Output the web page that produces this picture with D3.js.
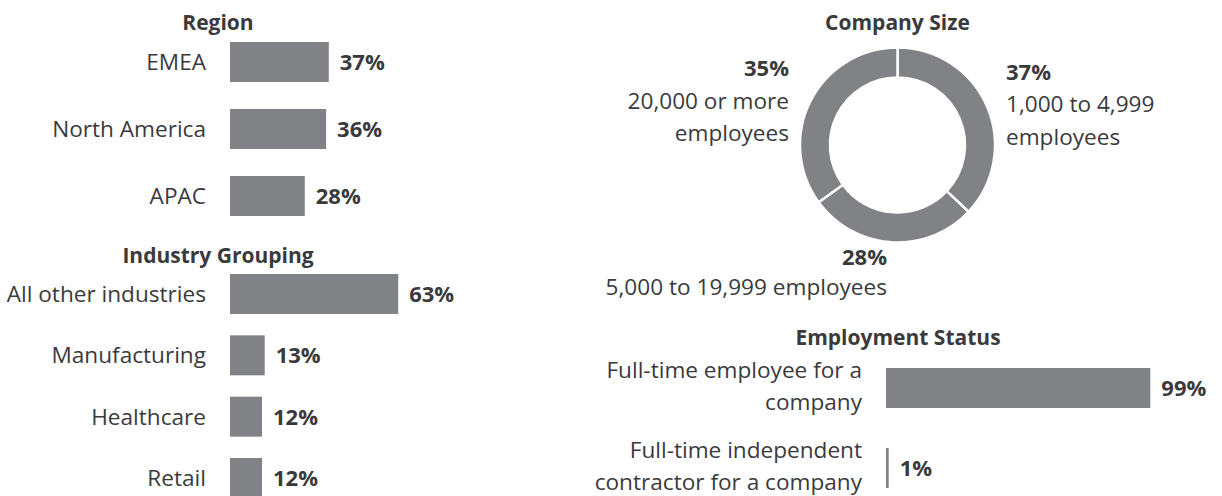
<!DOCTYPE html>
<html>
<head>
<meta charset="utf-8">
<script src="https://cdn.jsdelivr.net/npm/d3@7"></script>
<style>
  body { margin: 0; background: #fff; }
  svg { display: block; font-family: "Open Sans", sans-serif; }
  .title { font-weight: 700; font-size: 21px; fill: #3a3a3c; }
  .cat { font-size: 22.6px; fill: #3a3a3c; }
  .val { font-weight: 700; font-size: 22px; fill: #3a3a3c; }
</style>
</head>
<body>
<div id="chart"></div>
<script>
// data
var regionCats = ["EMEA", "North America", "APAC"],
    regionVals = [37, 36, 28];

var industryCats = ["All other industries", "Manufacturing", "Healthcare", "Retail"],
    industryVals = [63, 13, 12, 12];

var sizeCats = ["1,000 to 4,999 employees", "5,000 to 19,999 employees", "20,000 or more employees"],
    sizeVals = [37, 28, 35];

var statusCats = [["Full-time employee for a", "company"], ["Full-time independent", "contractor for a company"]],
    statusVals = [99, 1];

var width = 1222, height = 496,
    barColor = "#808285";

var svg = d3.select("#chart").append("svg")
    .attr("width", width)
    .attr("height", height);

// shared x scale for all bar blocks
var x = d3.scaleLinear().domain([0, 100]).range([0, 267]);

function barBlock(opts) {
    var g = svg.append("g");
    var n = opts.cats.length;
    var y = d3.scaleBand()
        .domain(d3.range(n))
        .range([opts.top, opts.top + n * opts.step - (opts.step - 40)])
        .paddingInner((opts.step - 40) / opts.step)
        .paddingOuter(0);

    g.append("text").attr("class", "title")
        .attr("x", opts.titleX).attr("y", opts.titleY)
        .attr("text-anchor", "middle")
        .text(opts.title);

    g.selectAll(".bar").data(opts.vals).enter().append("rect")
        .attr("class", "bar")
        .attr("x", opts.x0)
        .attr("y", (d, i) => y(i))
        .attr("width", (d) => x(d))
        .attr("height", y.bandwidth())
        .attr("fill", barColor);

    g.selectAll(".val").data(opts.vals).enter().append("text")
        .attr("class", "val")
        .attr("x", (d) => opts.x0 + x(d) + 11)
        .attr("y", (d, i) => y(i) + y.bandwidth() / 2)
        .attr("dy", "0.36em")
        .text((d) => d + "%");

    var lab = g.selectAll(".cat").data(opts.cats).enter().append("text")
        .attr("class", "cat")
        .attr("text-anchor", "end")
        .attr("y", (d, i) => y(i) + y.bandwidth() / 2);

    lab.each(function(d) {
        var t = d3.select(this);
        var lines = Array.isArray(d) ? d : [d];
        var cy = +t.attr("y");
        lines.forEach(function(line, k) {
            var off = lines.length === 1 ? 8 : (k === 0 ? -9.7 : 22);
            t.append("tspan")
                .attr("x", opts.x0 - 24)
                .attr("y", cy + off)
                .text(line);
        });
    });
}

barBlock({ title: "Region", titleX: 218, titleY: 30, cats: regionCats, vals: regionVals,
           x0: 230, top: 42, step: 67 });
barBlock({ title: "Industry Grouping", titleX: 218, titleY: 263, cats: industryCats, vals: industryVals,
           x0: 230, top: 274, step: 61.33 });
barBlock({ title: "Employment Status", titleX: 898, titleY: 345, cats: statusCats, vals: statusVals,
           x0: 886, top: 368, step: 80 });

// Company size donut
var cx = 897.5, cy = 145, rOut = 97.5, rIn = 67.5;
var donut = svg.append("g").attr("transform", "translate(" + cx + "," + cy + ")");

svg.append("text").attr("class", "title")
    .attr("x", cx).attr("y", 30)
    .attr("text-anchor", "middle")
    .text("Company Size");

var pie = d3.pie().sort(null).value((d) => d);
var arc = d3.arc().innerRadius(rIn).outerRadius(rOut);

donut.selectAll("path").data(pie(sizeVals)).enter().append("path")
    .attr("d", arc)
    .attr("fill", barColor)
    .attr("stroke", "#fff")
    .attr("stroke-width", 2.5);

// donut labels: [value line, text lines], position relative to centre
var sizeLabels = [
    { anchor: "start", dx: rOut + 11, ys: [80, 112, 145], lines: ["1,000 to 4,999", "employees"] },
    { anchor: "end", dx: -10.5, ys: [265, 295], lines: ["5,000 to 19,999 employees"] },
    { anchor: "end", dx: -(rOut + 11), ys: [76, 109, 141], lines: ["20,000 or more", "employees"] }
];

sizeLabels.forEach(function(l, i) {
    var t = svg.append("text").attr("class", "cat").attr("text-anchor", l.anchor);
    t.append("tspan").attr("class", "val")
        .attr("x", cx + l.dx).attr("y", l.ys[0])
        .text(sizeVals[i] + "%");
    l.lines.forEach(function(line, k) {
        t.append("tspan")
            .attr("x", cx + l.dx).attr("y", l.ys[k + 1])
            .text(line);
    });
});
</script>
</body>
</html>
